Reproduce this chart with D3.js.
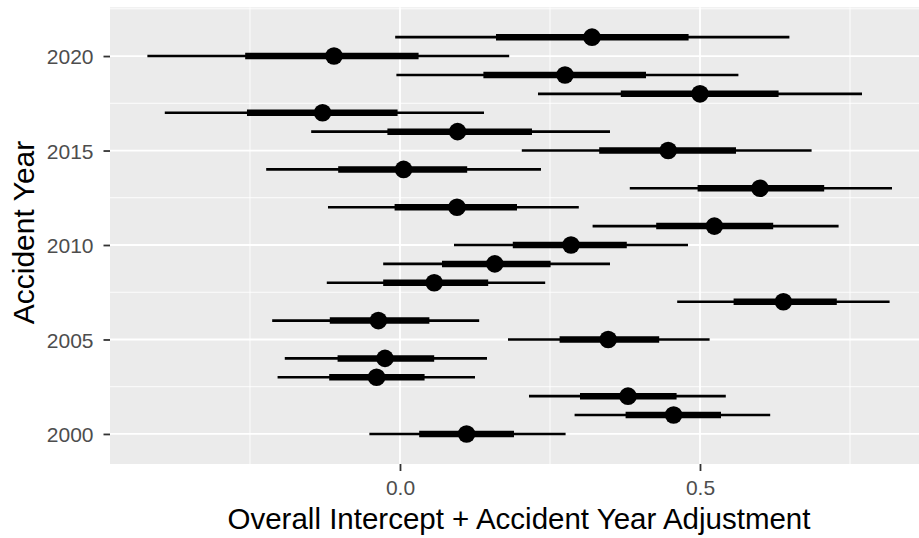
<!DOCTYPE html>
<html>
<head>
<meta charset="utf-8">
<script src="https://cdn.jsdelivr.net/npm/d3@7"></script>
<style>
  body { margin: 0; background: #fff; }
  svg { display: block; font-family: "Liberation Sans", Arial, sans-serif; }
</style>
</head>
<body>
<div id="chart"></div>
<script>
// accident years, and the interval for each (outer = thin line, inner = thick line)
const years = [2021, 2020, 2019, 2018, 2017, 2016, 2015, 2014, 2013, 2012, 2011,
  2010, 2009, 2008, 2007, 2006, 2005, 2004, 2003, 2002, 2001, 2000];
const lowOuter = [-0.008, -0.421, -0.006, 0.230, -0.392, -0.148, 0.203, -0.223, 0.383, -0.120, 0.321,
  0.090, -0.028, -0.122, 0.462, -0.213, 0.180, -0.192, -0.204, 0.215, 0.291, -0.051];
const lowInner = [0.160, -0.258, 0.139, 0.368, -0.255, -0.021, 0.332, -0.103, 0.496, -0.009, 0.427,
  0.188, 0.070, -0.028, 0.556, -0.117, 0.266, -0.104, -0.118, 0.300, 0.376, 0.032];
const medians = [0.320, -0.110, 0.275, 0.500, -0.129, 0.096, 0.447, 0.006, 0.600, 0.095, 0.524,
  0.285, 0.158, 0.057, 0.639, -0.036, 0.347, -0.025, -0.039, 0.380, 0.456, 0.111];
const highInner = [0.481, 0.031, 0.410, 0.631, -0.004, 0.220, 0.560, 0.112, 0.707, 0.195, 0.622,
  0.378, 0.251, 0.147, 0.728, 0.049, 0.432, 0.057, 0.041, 0.461, 0.535, 0.190];
const highOuter = [0.649, 0.182, 0.564, 0.770, 0.140, 0.350, 0.686, 0.235, 0.820, 0.298, 0.731,
  0.480, 0.350, 0.242, 0.816, 0.132, 0.516, 0.145, 0.125, 0.543, 0.617, 0.276];

const xTicks = [0, 0.5];
const xMinor = [-0.25, 0.25, 0.75];
const yTicks = [2000, 2005, 2010, 2015, 2020];
const yMinor = [2002.5, 2007.5, 2012.5, 2017.5, 2022.5];

const rows = years.map((y, i) => ({
  year: y, lo95: lowOuter[i], lo50: lowInner[i], med: medians[i], hi50: highInner[i], hi95: highOuter[i]
}));

const W = 919, H = 538;
const panel = { left: 110, right: 919, top: 7.3, bottom: 464 };

const svg = d3.select('#chart').append('svg')
  .attr('width', W)
  .attr('height', H);

const x = d3.scaleLinear()
  .domain([-0.4833, 0.865])
  .range([panel.left, panel.right]);

const y = d3.scaleLinear()
  .domain([1998.41, 2022.58])
  .range([panel.bottom, panel.top]);

// panel background
svg.append('rect')
  .attr('x', panel.left)
  .attr('y', panel.top)
  .attr('width', panel.right - panel.left)
  .attr('height', panel.bottom - panel.top)
  .attr('fill', '#EBEBEB');

// grid
const grid = svg.append('g');
grid.selectAll('.xminor').data(xMinor).enter().append('line')
  .attr('x1', d => x(d)).attr('x2', d => x(d))
  .attr('y1', panel.top).attr('y2', panel.bottom)
  .attr('stroke', '#fff').attr('stroke-width', 0.9);
grid.selectAll('.yminor').data(yMinor).enter().append('line')
  .attr('x1', panel.left).attr('x2', panel.right)
  .attr('y1', d => y(d)).attr('y2', d => y(d))
  .attr('stroke', '#fff').attr('stroke-width', 0.9);
grid.selectAll('.xmajor').data(xTicks).enter().append('line')
  .attr('x1', d => x(d)).attr('x2', d => x(d))
  .attr('y1', panel.top).attr('y2', panel.bottom)
  .attr('stroke', '#fff').attr('stroke-width', 1.8);
grid.selectAll('.ymajor').data(yTicks).enter().append('line')
  .attr('x1', panel.left).attr('x2', panel.right)
  .attr('y1', d => y(d)).attr('y2', d => y(d))
  .attr('stroke', '#fff').attr('stroke-width', 1.8);

// intervals
const marks = svg.append('g');
marks.selectAll('.outer').data(rows).enter().append('line')
  .attr('x1', d => x(d.lo95)).attr('x2', d => x(d.hi95))
  .attr('y1', d => y(d.year)).attr('y2', d => y(d.year))
  .attr('stroke', '#000').attr('stroke-width', 2.6);
marks.selectAll('.inner').data(rows).enter().append('line')
  .attr('x1', d => x(d.lo50)).attr('x2', d => x(d.hi50))
  .attr('y1', d => y(d.year)).attr('y2', d => y(d.year))
  .attr('stroke', '#000').attr('stroke-width', 6.5);
marks.selectAll('circle').data(rows).enter().append('circle')
  .attr('cx', d => x(d.med))
  .attr('cy', d => y(d.year))
  .attr('r', 8.8)
  .attr('fill', '#000');

// axes
const xAxis = svg.append('g')
  .attr('transform', `translate(0,${panel.bottom})`)
  .call(d3.axisBottom(x).tickValues(xTicks).tickFormat(d3.format('.1f')).tickSizeOuter(0).tickSize(7).tickPadding(9));
const yAxis = svg.append('g')
  .attr('transform', `translate(${panel.left},0)`)
  .call(d3.axisLeft(y).tickValues(yTicks).tickFormat(d3.format('d')).tickSizeOuter(0).tickSize(6.5).tickPadding(10));

[xAxis, yAxis].forEach(a => {
  a.select('.domain').remove();
  a.selectAll('.tick line').attr('stroke', '#333').attr('stroke-width', 1.8);
  a.selectAll('.tick text')
    .attr('fill', '#4D4D4D')
    .style('font-size', '21px')
    .style('font-family', '"Liberation Sans", Arial, sans-serif');
});
yAxis.selectAll('.tick text').attr('dy', '0.36em');

// titles
svg.append('text')
  .attr('x', 519)
  .attr('y', 529)
  .attr('text-anchor', 'middle')
  .attr('fill', '#000')
  .style('font-size', '29.5px')
  .text('Overall Intercept + Accident Year Adjustment');

svg.append('text')
  .attr('transform', `translate(34,232.5) rotate(-90)`)
  .attr('text-anchor', 'middle')
  .attr('fill', '#000')
  .style('font-size', '30px')
  .text('Accident Year');
</script>
</body>
</html>
